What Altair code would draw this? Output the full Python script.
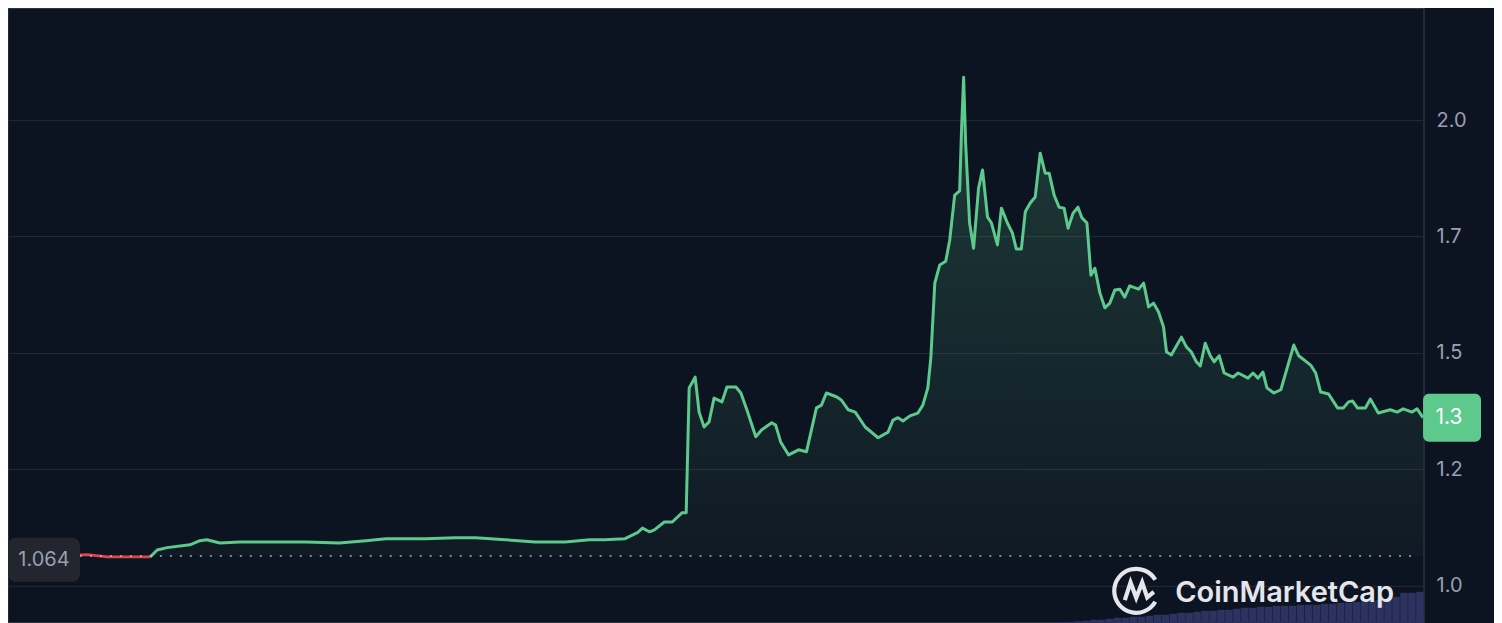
import altair as alt
import pandas as pd

# ---------------- data ----------------
T = [0, 40, 80, 100, 120, 143, 150, 160, 183, 193, 200, 213, 233, 273, 300, 333, 360, 380, 420, 450,
     470, 500, 530, 560, 585, 600, 620, 633, 638, 645, 650, 660, 668, 678, 682, 685, 691, 695, 700, 705,
     710, 718, 723, 732, 737, 743, 752, 758, 768, 772, 777, 785, 795, 803, 813, 818, 823, 833, 838, 845,
     852, 862, 875, 885, 890, 895, 900, 907, 915, 920, 925, 928, 932, 937, 943, 947, 952, 957, 959, 961,
     963, 967, 971, 976, 980, 985, 989, 995, 999, 1005, 1010, 1014, 1019, 1023, 1028, 1033, 1038, 1043, 1047, 1052,
     1057, 1062, 1066, 1071, 1076, 1080, 1085, 1089, 1093, 1098, 1103, 1108, 1113, 1118, 1123, 1128, 1137, 1142, 1147, 1152,
     1157, 1162, 1165, 1170, 1180, 1185, 1190, 1195, 1199, 1204, 1209, 1213, 1218, 1223, 1232, 1237, 1247, 1252, 1257, 1262,
     1266, 1273, 1280, 1293, 1298, 1310, 1315, 1320, 1328, 1337, 1343, 1348, 1352, 1357, 1365, 1370, 1378, 1390, 1397, 1403,
     1412, 1417, 1423]

PRICE = [1.062, 1.064, 1.067, 1.062, 1.062, 1.062, 1.077, 1.082, 1.088, 1.097, 1.099, 1.092, 1.094, 1.094, 1.094, 1.092, 1.097, 1.101, 1.101, 1.103,
         1.103, 1.099, 1.094, 1.094, 1.099, 1.099, 1.101, 1.114, 1.124, 1.116, 1.120, 1.137, 1.137, 1.157, 1.157, 1.425, 1.448, 1.373, 1.341, 1.352,
         1.403, 1.395, 1.427, 1.427, 1.414, 1.378, 1.320, 1.335, 1.350, 1.345, 1.309, 1.281, 1.292, 1.288, 1.382, 1.388, 1.414, 1.406, 1.399, 1.378,
         1.373, 1.341, 1.318, 1.330, 1.356, 1.361, 1.354, 1.365, 1.371, 1.388, 1.425, 1.489, 1.650, 1.689, 1.697, 1.742, 1.839, 1.848, 1.985, 2.092,
         1.951, 1.779, 1.725, 1.854, 1.893, 1.792, 1.779, 1.732, 1.811, 1.779, 1.758, 1.723, 1.723, 1.803, 1.822, 1.835, 1.929, 1.886, 1.886, 1.839,
         1.813, 1.811, 1.768, 1.800, 1.813, 1.790, 1.779, 1.667, 1.682, 1.629, 1.597, 1.607, 1.635, 1.637, 1.620, 1.644, 1.637, 1.650, 1.599, 1.607,
         1.588, 1.556, 1.502, 1.496, 1.534, 1.513, 1.502, 1.481, 1.472, 1.521, 1.494, 1.481, 1.494, 1.457, 1.448, 1.457, 1.446, 1.457, 1.446, 1.459,
         1.425, 1.414, 1.421, 1.517, 1.494, 1.474, 1.457, 1.416, 1.412, 1.382, 1.382, 1.395, 1.397, 1.382, 1.382, 1.401, 1.371, 1.378, 1.373, 1.380,
         1.373, 1.380, 1.361]

assert len(T) == len(PRICE)

BASELINE = 1.064
BASE_LABEL = "1.064"
LAST_LABEL = "1.3"
TICKS = [1.0, 1.25, 1.5, 1.75, 2.0]
RED_END = 145
GREEN_START = 143

VOL_T = [1056, 1064, 1072, 1080, 1088, 1096, 1104, 1112, 1120, 1128, 1136, 1144, 1152, 1160, 1168, 1176,
         1184, 1192, 1200, 1208, 1216, 1224, 1232, 1240, 1248, 1256, 1264, 1272, 1280, 1288, 1296, 1304,
         1312, 1320, 1328, 1336, 1344, 1352, 1360, 1368, 1376, 1384, 1392, 1400, 1408, 1416]
VOL = [0.2, 0.4, 0.6, 0.8, 1.2, 1.2, 1.6, 2.0, 2.0, 2.4, 2.4, 2.8, 3.2, 3.2, 3.6, 4.0,
       4.0, 4.4, 4.8, 4.8, 5.2, 5.2, 5.6, 6.0, 6.0, 6.4, 6.4, 6.8, 6.8, 6.8, 7.2, 7.2,
       7.2, 7.6, 7.6, 8.0, 8.0, 8.4, 8.4, 8.8, 9.2, 9.6, 10.4, 12.0, 12.0, 12.4]
assert len(VOL_T) == len(VOL)

LOGO_TEXT = "CoinMarketCap"

# ---------------- styling ----------------
BG = "#0d1421"
GREEN = "#5dc98c"
RED = "#e0454d"
GRID = "#262a36"
LABEL = "#9a9fb1"
VOLC = "#2c3360"
FONT = "Inter"

W, H = 1417, 615
XDOM = [0, 1424]
YDOM = [0.9206, 2.2403]

price_df = pd.DataFrame({"t": T, "price": PRICE})
vol_df = pd.DataFrame({"t": VOL_T, "vol": VOL})
base_df = pd.DataFrame({"v": [BASELINE], "label": [BASE_LABEL]})
last_df = pd.DataFrame({"v": [PRICE[-1]], "label": [LAST_LABEL]})
logo_df = pd.DataFrame({"label": [LOGO_TEXT]})

xsc = alt.Scale(domain=XDOM, nice=False, zero=False)
ysc = alt.Scale(domain=YDOM, nice=False, zero=False)
X = alt.X("t:Q", scale=xsc, axis=None)

axis = alt.Axis(
    orient="right", values=TICKS,
    labelExpr="format(floor(datum.value*10+0.0001)/10, '.1f')",
    grid=True, gridColor=GRID, gridWidth=1, ticks=False, domain=False,
    labelColor=LABEL, labelFontSize=20, labelFont=FONT, labelPadding=12,
    labelAlign="left", labelBaseline="middle", title=None,
)

green_df = alt.Chart(price_df).transform_filter(f"datum.t >= {GREEN_START}")

area = green_df.mark_area(
    color=alt.Gradient(
        gradient="linear",
        stops=[alt.GradientStop(color="rgba(93,201,140,0.22)", offset=0),
               alt.GradientStop(color="rgba(93,201,140,0.03)", offset=1)],
        x1=0, x2=0, y1=0, y2=1,
    )
).encode(x=X, y=alt.Y("price:Q", scale=ysc, axis=axis), y2=alt.datum(BASELINE))

green_line = green_df.mark_line(color=GREEN, strokeWidth=3, strokeJoin="round").encode(
    x=X, y=alt.Y("price:Q", scale=ysc, axis=axis))

red_line = alt.Chart(price_df).transform_filter(f"datum.t <= {RED_END}").mark_line(
    color=RED, strokeWidth=2.8).encode(x=X, y=alt.Y("price:Q", scale=ysc, axis=axis))

dotted = alt.Chart(base_df).mark_rule(color="#c6c9d3", strokeDash=[2, 8], strokeWidth=1.6, opacity=0.85).encode(
    x=alt.value(72), x2=alt.value(1412), y=alt.Y("v:Q", scale=ysc, axis=axis))

base_box = alt.Chart(base_df).transform_calculate(
    lo="datum.v - 0.055", hi="datum.v + 0.039").mark_rect(color="#23262f", cornerRadius=8).encode(
    x=alt.value(0), x2=alt.value(72), y=alt.Y("lo:Q", scale=ysc, axis=axis), y2="hi:Q")

base_text = alt.Chart(base_df).mark_text(font=FONT, fontSize=20, color=LABEL, align="center",
                                          baseline="middle", dy=4).encode(
    x=alt.value(36), y=alt.Y("v:Q", scale=ysc, axis=axis), text="label:N")

last_box = alt.Chart(last_df).transform_calculate(
    lo="datum.v - 0.0515", hi="datum.v + 0.0515").mark_rect(color=GREEN, cornerRadius=6).encode(
    x=alt.value(1416), x2=alt.value(1474), y=alt.Y("lo:Q", scale=ysc, axis=axis), y2="hi:Q")

last_text = alt.Chart(last_df).mark_text(font=FONT, fontSize=21, color="#ffffff", align="center",
                                          baseline="middle").encode(
    x=alt.value(1442), y=alt.Y("v:Q", scale=ysc, axis=axis), text="label:N")

price_layer = alt.layer(area, red_line, green_line, dotted, base_box, base_text, last_box, last_text)

volume = alt.Chart(vol_df).transform_calculate(t_end="datum.t + 7.6").mark_rect(color=VOLC).encode(
    x=X, x2="t_end:Q",
    y=alt.Y("vol:Q", scale=alt.Scale(domain=[0, 246], nice=False), axis=None),
    y2=alt.datum(0))

ICON = ("M0.866,0.5 A1,1 0 1 1 0.866,-0.5 "
        "M-0.52,0.42 L-0.26,-0.38 L0.0,0.32 L0.27,-0.38 L0.5,0.3 L0.8,0.05")
logo_icon = alt.Chart(logo_df).mark_point(shape=ICON, filled=False, stroke="#e4e6eb",
                                           strokeWidth=4.2, size=1936, opacity=1).encode(
    x=alt.value(1129), y=alt.value(583))
logo_text = alt.Chart(logo_df).mark_text(font=FONT, fontSize=29, fontWeight=600, color="#e4e6eb",
                                          align="left", baseline="alphabetic").encode(
    x=alt.value(1168), y=alt.value(594), text="label:N")

chart = alt.layer(volume, price_layer, logo_icon, logo_text).resolve_scale(y="independent").properties(
    width=W, height=H, background=BG,
    autosize=alt.AutoSizeParams(type="none"),
    padding={"left": 0, "top": 0, "right": 70, "bottom": 0},
).configure_view(stroke="#2f3342", strokeWidth=1.5)

chart.save("out.html", embed_options={"renderer": "svg", "actions": False})
